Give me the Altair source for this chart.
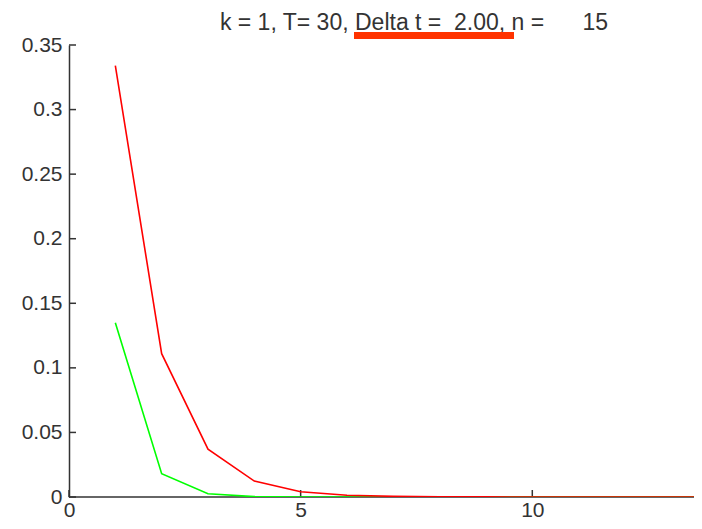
import altair as alt
import pandas as pd

# ---- data ----
x_steps = list(range(1, 16))
red_values = [0.334, 0.111, 0.037, 0.0123, 0.0041, 0.0014, 0.0005, 0.0002,
              0.0001, 0.0, 0.0, 0.0, 0.0, 0.0, 0.0]
green_values = [0.135, 0.018, 0.0025, 0.0003, 0.0, 0.0, 0.0, 0.0,
                0.0, 0.0, 0.0, 0.0, 0.0, 0.0, 0.0]
y_ticks = [0, 0.05, 0.1, 0.15, 0.2, 0.25, 0.3, 0.35]
x_ticks = [0, 5, 10]
title_text = ["k = 1, T= 30, Delta t =\u00a0 2.00, n =\u00a0\u00a0\u00a0\u00a0\u00a0 15"]

FONT = "Liberation Sans"
AX = "#333333"
W, H = 625, 452
X_MAX = 625 / 46.33

red_df = pd.DataFrame({"x": x_steps, "y": red_values})
green_df = pd.DataFrame({"x": x_steps, "y": green_values})
ytick_df = pd.DataFrame({"yt": y_ticks})
xtick_df = pd.DataFrame({"xt": x_ticks})
base_df = pd.DataFrame({"yb": [0]})
title_df = pd.DataFrame({"t": title_text})
mark_df = pd.DataFrame({"a": [0]})

x_scale = alt.Scale(domain=[0, X_MAX], nice=False, zero=False)
y_scale = alt.Scale(domain=[0, 0.35], nice=False)

x_axis = alt.Axis(values=x_ticks, title=None, ticks=False, grid=False, domain=False,
                  labelFont=FONT, labelFontSize=21, labelColor=AX,
                  labelPadding=2, labelFlush=False, labelOverlap=False)
y_axis = alt.Axis(values=y_ticks, title=None, ticks=False, grid=False,
                  format="~g", labelFont=FONT, labelFontSize=21,
                  labelColor=AX, labelPadding=7, domainColor=AX,
                  domainWidth=1.5, labelFlush=False, labelOverlap=False)

# x-axis baseline drawn as a mark so the curves can lie on top of it
baseline = alt.Chart(base_df).mark_rule(color=AX, strokeWidth=1.5).encode(
    y=alt.Y("yb:Q", scale=y_scale),
)

green = alt.Chart(green_df).mark_line(color="#00ff00", strokeWidth=1.6, clip=True).encode(
    x=alt.X("x:Q", scale=x_scale, axis=x_axis),
    y=alt.Y("y:Q", scale=y_scale, axis=y_axis),
)
red = alt.Chart(red_df).mark_line(color="#ff0000", strokeWidth=1.6, clip=True).encode(
    x=alt.X("x:Q", scale=x_scale, axis=x_axis),
    y=alt.Y("y:Q", scale=y_scale, axis=y_axis),
)

# inward (MATLAB-style) tick marks
yticks = alt.Chart(ytick_df).mark_rule(color=AX, strokeWidth=1.5).encode(
    y=alt.Y("yt:Q", scale=y_scale),
    x=alt.value(0), x2=alt.value(7),
)
xticks = alt.Chart(xtick_df).mark_rule(color=AX, strokeWidth=1.5).encode(
    x=alt.X("xt:Q", scale=x_scale),
    y=alt.value(H), y2=alt.value(H - 7),
)

title = alt.Chart(title_df).mark_text(font=FONT, fontSize=23, color=AX, align="center",
                                      baseline="alphabetic").encode(
    text="t:N", x=alt.value(345), y=alt.value(-15),
)

underline = alt.Chart(mark_df).mark_rule(color="#ff3300", strokeWidth=7).encode(
    x=alt.value(285), x2=alt.value(445), y=alt.value(-9.5),
)

chart = alt.layer(baseline, yticks, xticks, green, red, title, underline).properties(
    width=W, height=H,
    autosize=alt.AutoSizeParams(type="none"),
    padding={"left": 61, "top": 37, "right": 0, "bottom": 24},
).configure(background="white").configure_view(stroke=None)

chart.save("out.html", embed_options={"renderer": "svg", "actions": False})
